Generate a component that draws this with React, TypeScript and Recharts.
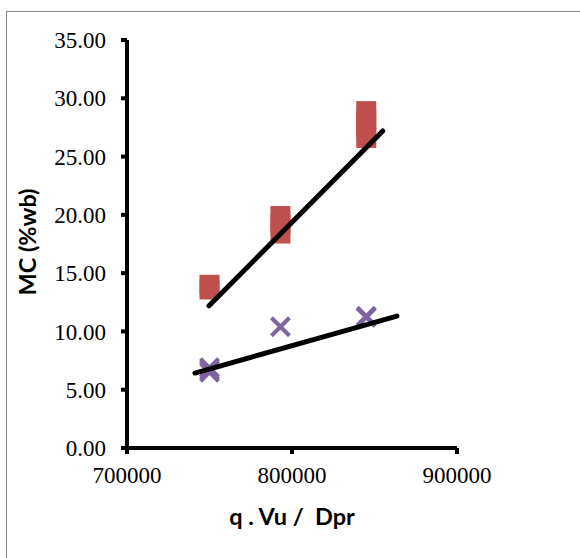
import {
  ScatterChart,
  Scatter,
  XAxis,
  YAxis,
  Label,
} from "recharts";

// MC readings (red squares)
const squareQ = [750000, 750000, 793000, 793000, 793000, 845000, 845000, 845000, 845000];
const squareMC = [13.6, 14.0, 18.4, 19.2, 19.9, 26.6, 27.4, 28.2, 28.9];

// MC readings (purple crosses)
const crossQ = [750000, 750000, 750000, 793000, 845000, 845000];
const crossMC = [6.5, 6.7, 6.9, 10.4, 11.2, 11.3];

// trendline end points
const upperTrendQ = [749700, 855000];
const upperTrendMC = [12.2, 27.2];
const lowerTrendQ = [741200, 863600];
const lowerTrendMC = [6.43, 11.32];

const xTicks = [700000, 800000, 900000];
const yTicks = [0, 5, 10, 15, 20, 25, 30, 35];

const pairUp = (xs: number[], ys: number[]) => xs.map((x, i) => ({ x, y: ys[i] }));

const squareData = pairUp(squareQ, squareMC);
const crossData = pairUp(crossQ, crossMC);
const upperTrend = pairUp(upperTrendQ, upperTrendMC);
const lowerTrend = pairUp(lowerTrendQ, lowerTrendMC);

const SquareDot = (props: any) => {
  const { cx, cy } = props;
  return <rect x={cx - 10} y={cy - 10} width={20} height={20} fill="#C0504D" />;
};

const CrossDot = (props: any) => {
  const { cx, cy } = props;
  return (
    <g stroke="#8064A2" strokeWidth={4}>
      <line x1={cx - 9} y1={cy - 9} x2={cx + 9} y2={cy + 9} />
      <line x1={cx - 9} y1={cy + 9} x2={cx + 9} y2={cy - 9} />
    </g>
  );
};

const NoDot = () => <g />;

const tickFont = { fontFamily: "'Liberation Serif', serif", fontSize: 23, fill: "#000" };
const titleFont = "Lato, 'Open Sans', sans-serif";

export default function App() {
  return (
    <div
      style={{
        position: "fixed",
        left: 0,
        top: 0,
        width: 580,
        height: 558,
        overflow: "hidden",
        background: "#fff",
      }}
    >
      <div
        style={{
          position: "absolute",
          left: 6,
          top: 11,
          width: 700,
          height: 700,
          borderLeft: "1px solid #868686",
          borderTop: "1px solid #868686",
        }}
      />
      <div style={{ position: "absolute", left: 0, top: 0 }}>
        <ScatterChart
          width={580}
          height={558}
          margin={{ top: 40, right: 123, bottom: 50, left: 0 }}
        >
          <XAxis
            type="number"
            dataKey="x"
            domain={[700000, 900000]}
            ticks={xTicks}
            allowDataOverflow
            height={60}
            axisLine={{ stroke: "#000", strokeWidth: 4 }}
            tickLine={{ stroke: "#000", strokeWidth: 4 }}
            tickSize={6}
            tickMargin={13}
            tick={tickFont}
          >
            <Label
              content={() => (
                <text
                  x={292}
                  y={525}
                  textAnchor="middle"
                  fontFamily={titleFont}
                  fontWeight="bold"
                  fontSize={23.5}
                  fill="#000"
                  style={{ whiteSpace: "pre" }}
                >
                  {"q . Vu /  Dpr"}
                </text>
              )}
            />
          </XAxis>
          <YAxis
            type="number"
            dataKey="y"
            domain={[0, 35]}
            ticks={yTicks}
            width={127}
            axisLine={{ stroke: "#000", strokeWidth: 4 }}
            tickLine={{ stroke: "#000", strokeWidth: 4 }}
            tickSize={6}
            tickMargin={15}
            tick={tickFont}
            tickFormatter={(v: number) => v.toFixed(2)}
          >
            <Label
              content={() => (
                <text
                  x={36}
                  y={242}
                  transform="rotate(-90 36 242)"
                  textAnchor="middle"
                  fontFamily={titleFont}
                  fontWeight="bold"
                  fontSize={23.5}
                  fill="#000"
                >
                  MC (%wb)
                </text>
              )}
            />
          </YAxis>
          <Scatter data={squareData} shape={SquareDot} isAnimationActive={false} />
          <Scatter data={crossData} shape={CrossDot} isAnimationActive={false} />
          <Scatter
            data={upperTrend}
            shape={NoDot}
            line={{ stroke: "#000", strokeWidth: 5, strokeLinecap: "round" }}
            isAnimationActive={false}
          />
          <Scatter
            data={lowerTrend}
            shape={NoDot}
            line={{ stroke: "#000", strokeWidth: 5, strokeLinecap: "round" }}
            isAnimationActive={false}
          />
        </ScatterChart>
      </div>
    </div>
  );
}
